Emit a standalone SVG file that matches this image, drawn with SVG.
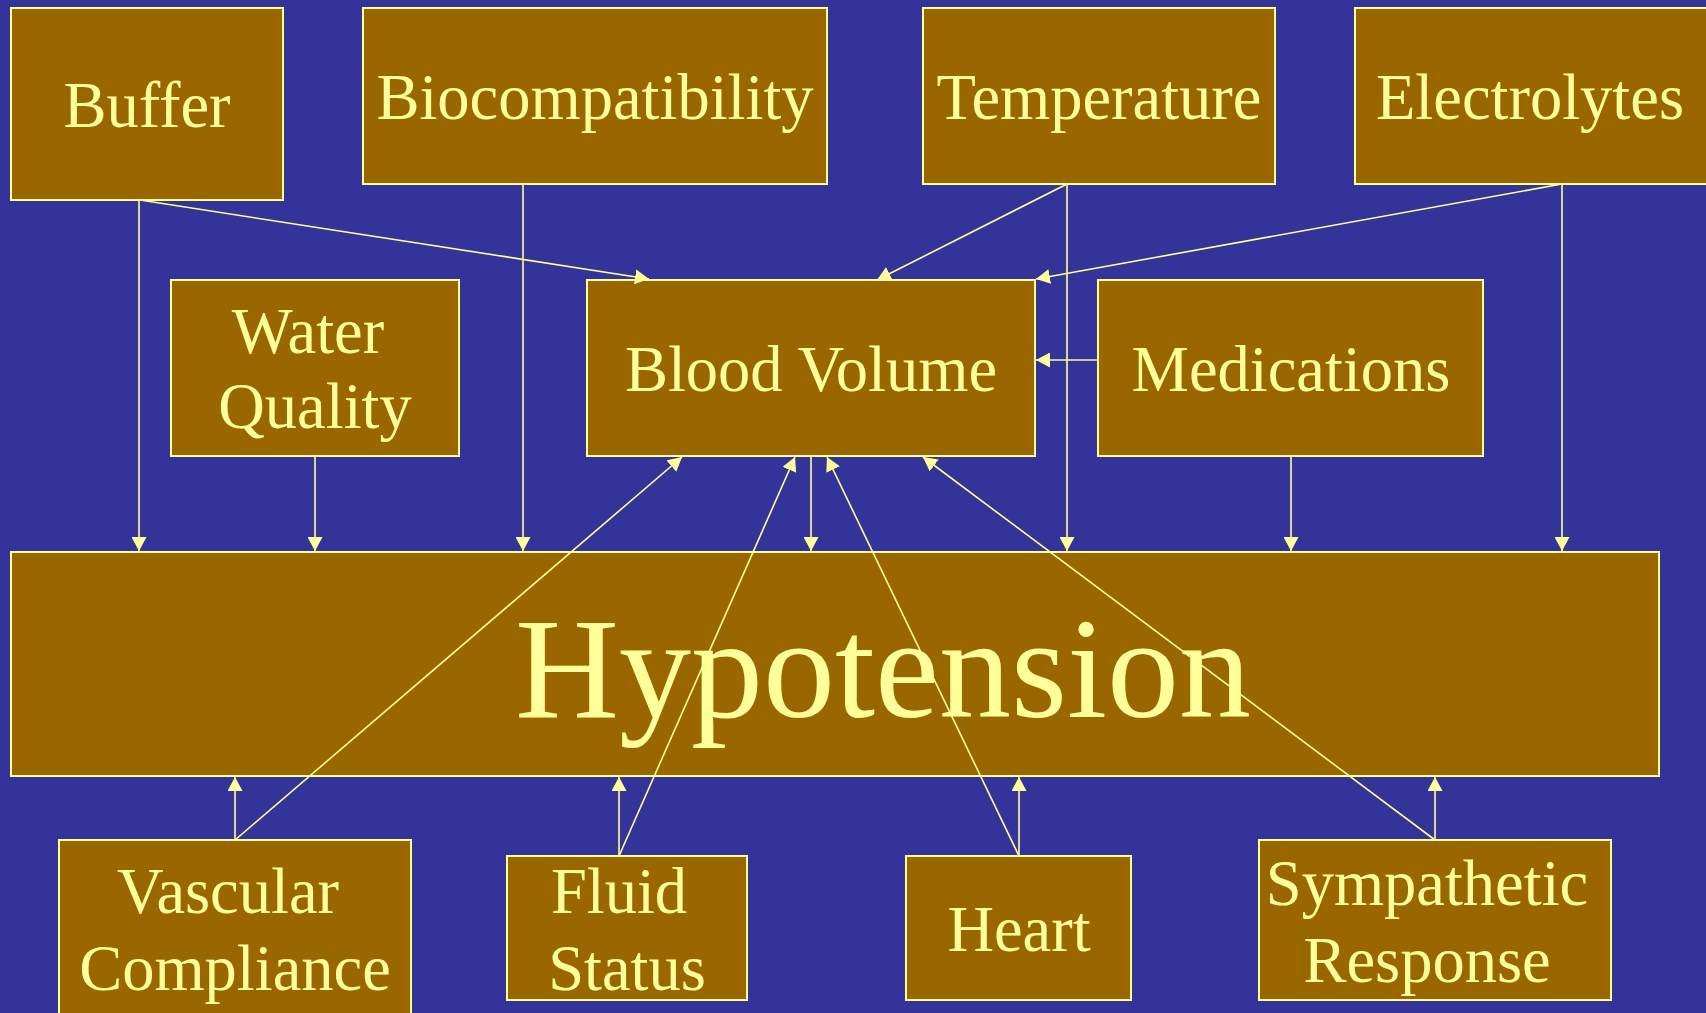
<svg xmlns="http://www.w3.org/2000/svg" width="1706" height="1013" viewBox="0 0 1706 1013">
<style>
.box{fill:#996600;stroke:#FFFF99;stroke-width:2}
.t{font-family:"Liberation Serif","Times New Roman",serif;font-size:64.5px;fill:#FFFF99;text-anchor:middle}
.big{font-size:144px}
.c line{stroke:#FFFF99;stroke-width:1.6;marker-end:url(#ah)}
</style>
<defs>
<marker id="ah" markerUnits="userSpaceOnUse" markerWidth="15" markerHeight="15" refX="14" refY="7.5" orient="auto">
<path d="M0,0 L14,7.5 L0,15 z" fill="#FFFF99"/>
</marker>
</defs>
<rect width="1706" height="1013" fill="#333399"/>
<g id="buffer"><rect class="box" x="11" y="8" width="272" height="192"/><text class="t" x="147" y="127">Buffer</text></g>
<g id="biocompatibility"><rect class="box" x="363" y="8" width="464" height="176"/><text class="t" x="595" y="119">Biocompatibility</text></g>
<g id="temperature"><rect class="box" x="923" y="8" width="352" height="176"/><text class="t" x="1099" y="119">Temperature</text></g>
<g id="electrolytes"><rect class="box" x="1355" y="8" width="360" height="176"/><text class="t" x="1530" y="119">Electrolytes</text></g>
<g id="water-quality"><rect class="box" x="171" y="280" width="288" height="176"/><text class="t" x="308" y="353">Water</text><text class="t" x="315" y="428">Quality</text></g>
<g id="blood-volume"><rect class="box" x="587" y="280" width="448" height="176"/><text class="t" x="811" y="391">Blood Volume</text></g>
<g id="medications"><rect class="box" x="1098" y="280" width="385" height="176"/><text class="t" x="1291" y="391">Medications</text></g>
<g id="hypotension"><rect class="box" x="11" y="552" width="1648" height="224"/><text class="t big" x="883" y="717">Hypotension</text></g>
<g id="vascular-compliance"><rect class="box" x="59" y="840" width="352" height="190"/><text class="t" x="228" y="913">Vascular</text><text class="t" x="235" y="990">Compliance</text></g>
<g id="fluid-status"><rect class="box" x="507" y="856" width="240" height="144"/><text class="t" x="619" y="913">Fluid</text><text class="t" x="627" y="990">Status</text></g>
<g id="heart"><rect class="box" x="906" y="856" width="225" height="144"/><text class="t" x="1019" y="951">Heart</text></g>
<g id="sympathetic-response"><rect class="box" x="1259" y="840" width="352" height="160"/><text class="t" x="1427" y="905">Sympathetic</text><text class="t" x="1427" y="982">Response</text></g>
<g id="connectors" class="c">
<line x1="139" y1="200" x2="139" y2="551"/>
<line x1="140" y1="200" x2="649" y2="279"/>
<line x1="523" y1="184" x2="523" y2="551"/>
<line x1="315" y1="456" x2="315" y2="551"/>
<line x1="1067" y1="184" x2="877" y2="280"/>
<line x1="1067" y1="184" x2="1067" y2="551"/>
<line x1="1562" y1="184" x2="1036" y2="279"/>
<line x1="1562" y1="184" x2="1562" y2="551"/>
<line x1="1098" y1="360" x2="1036" y2="360"/>
<line x1="1291" y1="456" x2="1291" y2="551"/>
<line x1="811" y1="456" x2="811" y2="551"/>
<line x1="235" y1="840" x2="235" y2="777"/>
<line x1="235" y1="840" x2="682" y2="457"/>
<line x1="619" y1="856" x2="619" y2="777"/>
<line x1="619" y1="856" x2="795" y2="457"/>
<line x1="1019" y1="856" x2="1019" y2="777"/>
<line x1="1019" y1="856" x2="827" y2="457"/>
<line x1="1435" y1="840" x2="1435" y2="777"/>
<line x1="1435" y1="840" x2="923" y2="457"/>
</g>
</svg>
